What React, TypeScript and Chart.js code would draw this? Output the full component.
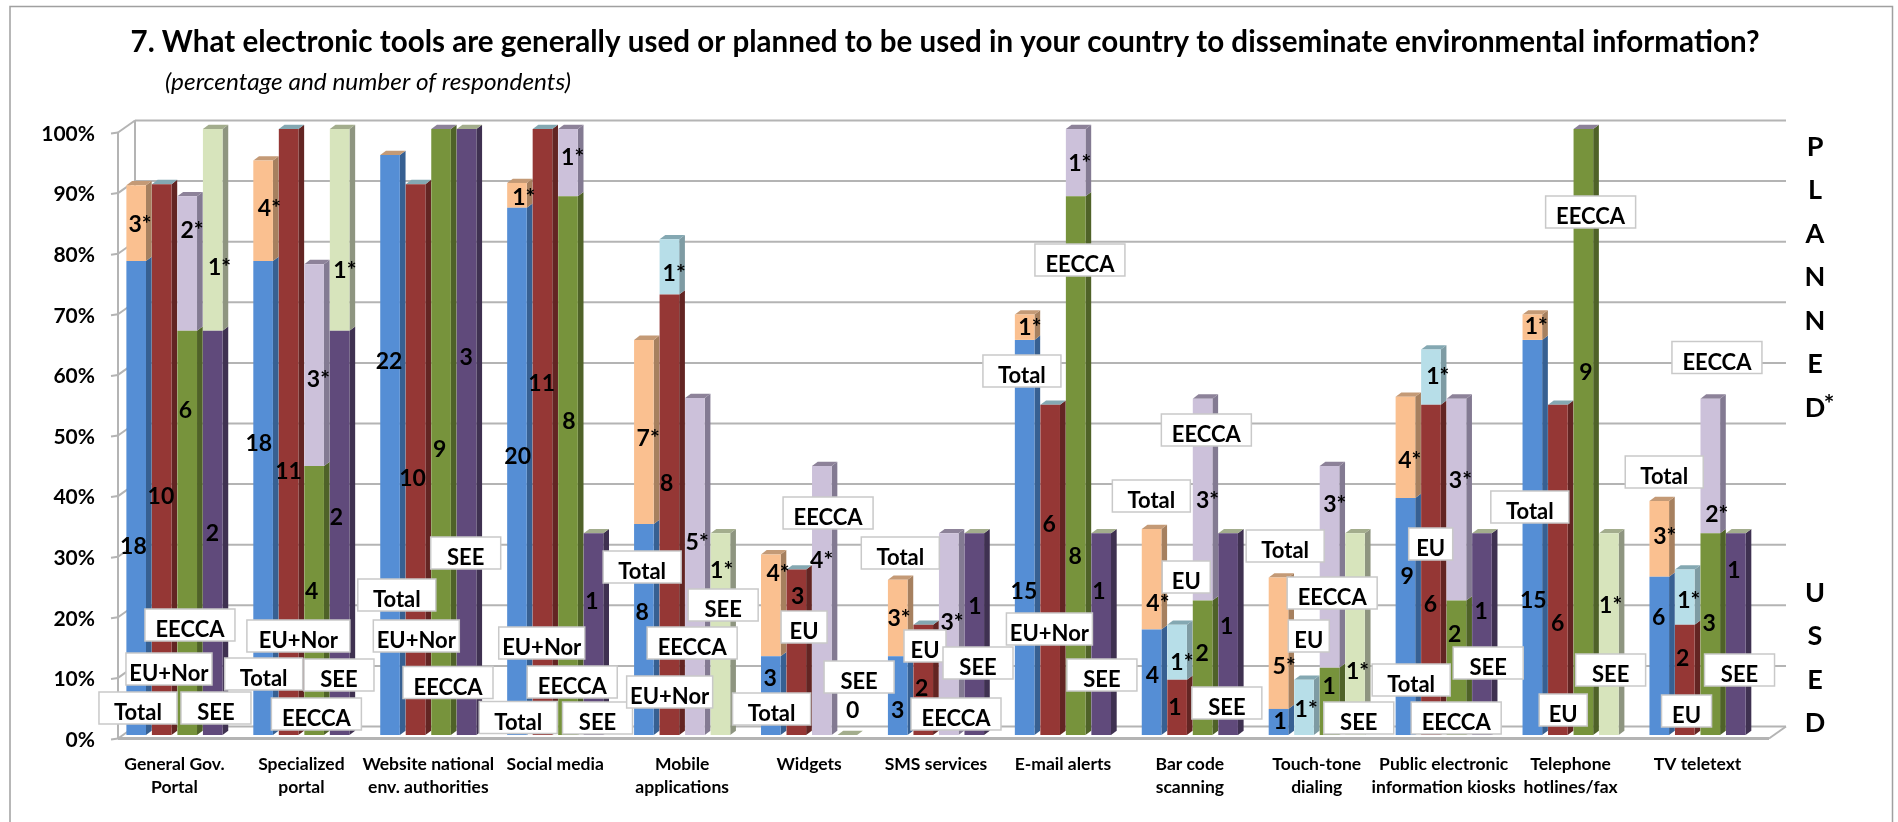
import { useEffect, useRef } from "react";
import { Chart, registerables } from "chart.js";

Chart.register(...registerables);

const categories = [
  ["General Gov.", "Portal"],
  ["Specialized", "portal"],
  ["Website national", "env. authorities"],
  ["Social media"],
  ["Mobile", "applications"],
  ["Widgets"],
  ["SMS services"],
  ["E-mail alerts"],
  ["Bar code", "scanning"],
  ["Touch-tone", "dialing"],
  ["Public electronic", "information kiosks"],
  ["Telephone", "hotlines/fax"],
  ["TV teletext"],
];

// Percentage of respondents, "used" and "planned" stacked per region.
const totalUsed = [78.2, 78.2, 95.7, 87, 34.8, 13, 13, 65.2, 17.4, 4.3, 39.1, 65.2, 26.1];
const totalPlanned = [12.5, 16.6, 0, 4.1, 30.4, 16.8, 12.6, 4.2, 16.6, 21.7, 16.7, 4.2, 12.5];
const euUsed = [90.9, 100, 90.9, 100, 72.7, 27.3, 18.2, 54.5, 9.1, 0, 54.5, 54.5, 18.2];
const euPlanned = [0, 0, 0, 0, 9.1, 0, 0, 0, 9.1, 9.1, 9.1, 0, 9.1];
const eeccaUsed = [66.7, 44.4, 100, 88.9, 0, 0, 0, 88.9, 22.2, 11.1, 22.2, 100, 33.3];
const eeccaPlanned = [22.2, 33.3, 0, 11.1, 55.6, 44.4, 33.3, 11.1, 33.3, 33.3, 33.3, 0, 22.2];
const seeUsed = [66.7, 66.7, 100, 33.3, 0, 0, 33.3, 33.3, 33.3, 0, 33.3, 0, 33.3];
const seePlanned = [33.3, 33.3, 0, 0, 33.3, 0, 0, 0, 0, 33.3, 0, 33.3, 0];

const yTicks = [0, 10, 20, 30, 40, 50, 60, 70, 80, 90, 100];
const titleText = "7. What electronic tools are generally used or planned to be used in your country to disseminate environmental information?";
const subtitleText = "(percentage and number of respondents)";
const plannedLetters = ["P", "L", "A", "N", "N", "E", "D"];
const usedLetters = ["U", "S", "E", "D"];

// Respondent counts: category index, text, x offset from the category centre, height above the floor.
type Note = [number, string, number, number];
const countNotes: Note[] = [
  [0, "3*", -34.5, 510], [0, "2*", 17.5, 504], [0, "1*", 45, 467], [0, "6", 11, 324], [0, "10", -13.5, 238], [0, "18", -41, 188], [0, "2", 38, 201],
  [1, "4*", -32, 526], [1, "1*", 43.5, 464], [1, "3*", 17, 355], [1, "18", -42.6, 291], [1, "11", -12.8, 263], [1, "4", 10.4, 143], [1, "2", 35, 217],
  [2, "22", -39.3, 373], [2, "3", 37.8, 377], [2, "9", 11.3, 285], [2, "10", -15.7, 256],
  [3, "1*", -31.5, 537], [3, "1*", 17.4, 577], [3, "11", -13.6, 351], [3, "8", 13.8, 313], [3, "20", -37.6, 278], [3, "1", 36.6, 133],
  [4, "7*", -34, 296], [4, "1*", -8, 461], [4, "8", -15.6, 251], [4, "8", -40, 122], [4, "5*", 15, 192], [4, "1*", 39.5, 164],
  [5, "4*", -31, 161], [5, "4*", 12.6, 174], [5, "3", -11.4, 138], [5, "3", -39, 56], [5, "0", 43.7, 24],
  [6, "3*", -37, 116], [6, "3*", 16, 112], [6, "1", 38.8, 128], [6, "3", -38.3, 24], [6, "2", -14.3, 46],
  [7, "1*", -33, 407], [7, "1*", 16.8, 571], [7, "15", -39, 143], [7, "6", -13.8, 210], [7, "8", 12.3, 178], [7, "1", 36, 143],
  [8, "4*", -32, 131], [8, "3*", 17.6, 234], [8, "4", -37.5, 59], [8, "1*", -8, 72], [8, "2", 12.3, 81], [8, "1", 36.8, 108], [8, "1", -15, 27],
  [9, "3*", 18, 230], [9, "5*", -32.6, 68], [9, "1*", -10.6, 25], [9, "1", -36.6, 13], [9, "1", 12.3, 48], [9, "1*", 40.7, 63],
  [10, "4*", -34, 274], [10, "1*", -6, 358], [10, "3*", 16.7, 254], [10, "9", -36.5, 158], [10, "6", -13.3, 130], [10, "1", 37.5, 123], [10, "2", 11, 100],
  [11, "1*", -34.4, 408], [11, "9", 15.2, 362], [11, "15", -37.3, 134], [11, "6", -13, 111], [11, "1*", 40, 129],
  [12, "3*", -32.8, 198], [12, "2*", 19.2, 220], [12, "1", 36.5, 164], [12, "1*", -8.8, 134], [12, "6", -38.8, 117], [12, "3", 11.7, 111], [12, "2", -14.8, 76],
];

// Boxed region tags, same columns, with an optional width override.
type Tag = [number, string, number, number, number?];
const regionTags: Tag[] = [
  [0, "EECCA", 15.5, 110], [0, "EU+Nor", -5.5, 66], [0, "Total", -36.5, 27], [0, "SEE", 41.5, 27],
  [1, "EU+Nor", -3, 99, 103], [1, "Total", -37.7, 61], [1, "SEE", 37.6, 60], [1, "EECCA", 15, 21],
  [2, "SEE", 37.4, 182], [2, "Total", -31.5, 140], [2, "EU+Nor", -12, 99], [2, "EECCA", 19.7, 52.5],
  [3, "EU+Nor", -13.5, 92], [3, "EECCA", 17, 53], [3, "Total", -37, 17.5], [3, "SEE", 42.3, 17],
  [4, "Total", -40, 168], [4, "SEE", 41, 130], [4, "EECCA", 10, 92], [4, "EU+Nor", -12.5, 43],
  [5, "EECCA", 19, 222], [5, "EU", -5, 108, 46], [5, "SEE", 50, 58], [5, "Total", -37.5, 26],
  [6, "Total", -35.7, 182], [6, "EU", -11, 89, 42], [6, "SEE", 42, 72], [6, "EECCA", 20, 21],
  [7, "Total", -41, 364], [7, "EECCA", 17, 475], [7, "EU+Nor", -13.5, 106], [7, "SEE", 39, 60],
  [8, "EECCA", 16.5, 305], [8, "Total", -38.5, 239], [8, "EU", -3.6, 158, 48], [8, "SEE", 37, 32],
  [9, "Total", -31.6, 189], [9, "EECCA", 15.4, 142], [9, "EU", -8, 99, 41], [9, "SEE", 42, 17],
  [10, "EU", -13, 191, 44], [10, "Total", -32.5, 55], [10, "SEE", 44.5, 72], [10, "EECCA", 12.5, 17],
  [11, "EECCA", 20, 523], [11, "Total", -40.8, 228], [11, "SEE", 40, 65], [11, "EU", -7.4, 25, 48],
  [12, "EECCA", 19.4, 377.5], [12, "Total", -33.3, 263], [12, "SEE", 42, 65], [12, "EU", -11, 24, 50],
];

const tagWidths: Record<string, number> = { EECCA: 90, "EU+Nor": 86, Total: 78, SEE: 70, EU: 46 };

const FONT = "Lato, Carlito, Calibri, sans-serif";

// Each region is a used segment with a planned segment on top; side and top faces give the 3-D look.
const seriesStyles = [
  { label: "Total used", stack: "Total", data: totalUsed, front: "#558ed5", side: "#376092", top: "#c49a76" },
  { label: "Total planned", stack: "Total", data: totalPlanned, front: "#fac090", side: "#a6805f", top: "#c49a76" },
  { label: "EU+Nor used", stack: "EU", data: euUsed, front: "#953735", side: "#632523", top: "#84a8b2" },
  { label: "EU+Nor planned", stack: "EU", data: euPlanned, front: "#b7dee8", side: "#7e9ba3", top: "#84a8b2" },
  { label: "EECCA used", stack: "EECCA", data: eeccaUsed, front: "#77933c", side: "#4f6228", top: "#8d8299" },
  { label: "EECCA planned", stack: "EECCA", data: eeccaPlanned, front: "#ccc1da", side: "#837a92", top: "#8d8299" },
  { label: "SEE used", stack: "SEE", data: seeUsed, front: "#604a7b", side: "#3f3151", top: "#a3ad8d" },
  { label: "SEE planned", stack: "SEE", data: seePlanned, front: "#d7e4bc", side: "#8e9580", top: "#a3ad8d" },
];

const BAR_DEPTH_X = 5.7;
const BAR_DEPTH_Y = 4.3;
const WALL_LEFT_INSET = 7;
const WALL_RIGHT_INSET = 8;
const WALL_DEPTH_X = 17;
const WALL_DEPTH_Y = 8.5;
const AXIS_DROP = 3.5;
const GRID = "#b4b4b4";

function line(ctx: CanvasRenderingContext2D, x1: number, y1: number, x2: number, y2: number) {
  ctx.beginPath();
  ctx.moveTo(x1, y1);
  ctx.lineTo(x2, y2);
  ctx.stroke();
}

function face(ctx: CanvasRenderingContext2D, color: string, pts: number[][]) {
  ctx.fillStyle = color;
  ctx.beginPath();
  pts.forEach(([x, y], i) => (i ? ctx.lineTo(x, y) : ctx.moveTo(x, y)));
  ctx.closePath();
  ctx.fill();
}

const pagePlugin = {
  id: "pageText",
  beforeDraw(chart: any) {
    const ctx = chart.ctx as CanvasRenderingContext2D;
    ctx.save();
    ctx.fillStyle = "#ffffff";
    ctx.fillRect(0, 0, chart.width, chart.height);
    ctx.strokeStyle = "#a0a0a0";
    ctx.lineWidth = 1.5;
    ctx.beginPath();
    ctx.moveTo(10, chart.height);
    ctx.lineTo(10, 6.5);
    ctx.lineTo(1892.5, 6.5);
    ctx.lineTo(1892.5, chart.height);
    ctx.stroke();

    ctx.fillStyle = "#000000";
    ctx.textBaseline = "middle";
    ctx.textAlign = "left";

    // The heading spans the plot width, so the font is fitted to that width.
    ctx.font = `bold 30px ${FONT}`;
    const natural = ctx.measureText(titleText).width;
    ctx.save();
    ctx.translate(130.5, 42);
    ctx.scale(1629 / natural, 1);
    ctx.fillText(titleText, 0, 0);
    ctx.restore();

    ctx.font = `italic 23px ${FONT}`;
    const subNatural = ctx.measureText(subtitleText).width;
    ctx.save();
    ctx.translate(165, 83);
    ctx.scale(406 / subNatural, 1);
    ctx.fillText(subtitleText, 0, 0);
    ctx.restore();

    // Vertical side captions.
    ctx.textAlign = "center";
    ctx.font = `bold 27px ${FONT}`;
    plannedLetters.forEach((ch, i) => ctx.fillText(ch, 1815, 147 + i * 43.5));
    usedLetters.forEach((ch, i) => ctx.fillText(ch, 1815, 593 + i * 43.4));
    ctx.font = `bold 25px ${FONT}`;
    ctx.fillText("*", 1829, 405);
    ctx.restore();
  },
};

const depthPlugin = {
  id: "depthFaces",
  beforeDatasetsDraw(chart: any) {
    const ctx = chart.ctx as CanvasRenderingContext2D;
    const y = chart.scales.y;
    const area = chart.chartArea;
    const left = area.left + WALL_LEFT_INSET;
    const right = area.right + WALL_RIGHT_INSET;
    const floorFront = y.getPixelForValue(0) + AXIS_DROP;
    const floorBack = y.getPixelForValue(0) - WALL_DEPTH_Y;

    ctx.save();
    ctx.strokeStyle = GRID;
    ctx.lineWidth = 2;
    yTicks.forEach((v) => {
      const py = y.getPixelForValue(v);
      // Back wall line, side wall diagonal and the short tick at the front axis.
      line(ctx, left + WALL_DEPTH_X, py - WALL_DEPTH_Y, right + WALL_DEPTH_X, py - WALL_DEPTH_Y);
      line(ctx, left - 7, py + AXIS_DROP + 1, left, py + AXIS_DROP);
      line(ctx, left, py + AXIS_DROP, left + WALL_DEPTH_X, py - WALL_DEPTH_Y);
    });
    line(ctx, left, y.getPixelForValue(100) + AXIS_DROP, left, floorFront);
    line(ctx, left + WALL_DEPTH_X, y.getPixelForValue(100) - WALL_DEPTH_Y, left + WALL_DEPTH_X, floorBack);
    line(ctx, right, floorFront, right + WALL_DEPTH_X, floorBack);
    ctx.lineWidth = 3;
    line(ctx, left, floorFront, right, floorFront);

    // Side faces for every segment, top face on the stack's upper segment only.
    seriesStyles.forEach((s, ds) => {
      const isPlanned = ds % 2 === 1;
      chart.getDatasetMeta(ds).data.forEach((bar: any) => {
        const xr = bar.x + bar.width / 2;
        const xl = bar.x - bar.width / 2;
        if (bar.base - bar.y > 0.01) {
          face(ctx, s.side, [
            [xr, bar.y],
            [xr + BAR_DEPTH_X, bar.y - BAR_DEPTH_Y],
            [xr + BAR_DEPTH_X, bar.base - BAR_DEPTH_Y],
            [xr, bar.base],
          ]);
        }
        if (isPlanned) {
          face(ctx, s.top, [
            [xl, bar.y],
            [xl + BAR_DEPTH_X, bar.y - BAR_DEPTH_Y],
            [xr + BAR_DEPTH_X, bar.y - BAR_DEPTH_Y],
            [xr, bar.y],
          ]);
        }
      });
    });
    ctx.restore();
  },
  afterDatasetsDraw(chart: any) {
    const ctx = chart.ctx as CanvasRenderingContext2D;
    const x = chart.scales.x;
    const floor = chart.scales.y.getPixelForValue(0);
    ctx.save();
    ctx.fillStyle = "#000000";
    ctx.textAlign = "center";
    ctx.textBaseline = "middle";
    ctx.font = `bold 23px ${FONT}`;
    countNotes.forEach(([cat, text, dx, rise]) => {
      ctx.fillText(text, x.getPixelForValue(cat) + dx, floor - rise);
    });
    ctx.font = `bold 22px ${FONT}`;
    regionTags.forEach(([cat, text, dx, rise, width]) => {
      const w = width ?? tagWidths[text];
      const h = 32;
      const cx = x.getPixelForValue(cat) + dx;
      const cy = floor - rise;
      ctx.fillStyle = "#ffffff";
      ctx.fillRect(cx - w / 2, cy - h / 2, w, h);
      ctx.strokeStyle = "#c9c9c9";
      ctx.lineWidth = 1.5;
      ctx.strokeRect(cx - w / 2, cy - h / 2, w, h);
      ctx.fillStyle = "#000000";
      ctx.fillText(text, cx, cy + 5);
    });
    ctx.restore();
  },
};

export default function App() {
  const canvasRef = useRef<HTMLCanvasElement | null>(null);

  useEffect(() => {
    const chart = new Chart(canvasRef.current as HTMLCanvasElement, {
      type: "bar",
      data: {
        labels: categories as any,
        datasets: seriesStyles.map((s) => ({
          label: s.label,
          stack: s.stack,
          data: s.data,
          backgroundColor: s.front,
          borderWidth: 0,
          barPercentage: 0.769,
          categoryPercentage: 0.804,
        })),
      },
      options: {
        animation: false,
        responsive: false,
        devicePixelRatio: 1,
        layout: { autoPadding: false, padding: { top: 129, right: 137, left: 0, bottom: 0 } },
        plugins: { legend: { display: false }, title: { display: false }, tooltip: { enabled: false } },
        scales: {
          x: {
            stacked: true,
            grid: { display: false, drawTicks: false },
            border: { display: false },
            afterFit: (scale: any) => {
              scale.height = 87;
            },
            ticks: {
              autoSkip: false,
              maxRotation: 0,
              minRotation: 0,
              padding: 18,
              color: "#000000",
              font: { family: FONT, weight: "bold", size: 17.5, lineHeight: 1.31 },
            },
          },
          y: {
            stacked: true,
            min: 0,
            max: 100,
            grid: { display: false, drawTicks: false },
            border: { display: false },
            afterFit: (scale: any) => {
              scale.width = 111;
            },
            afterBuildTicks: (scale: any) => {
              scale.ticks = yTicks.map((value) => ({ value }));
            },
            ticks: {
              padding: 16,
              labelOffset: 5,
              color: "#000000",
              font: { family: FONT, weight: "bold", size: 21 },
              callback: (v: any) => `${v}%`,
            },
          },
        },
      },
      plugins: [pagePlugin, depthPlugin],
    } as any);
    return () => chart.destroy();
  }, []);

  return (
    <div style={{ position: "absolute", left: 0, top: 0, width: 1898, height: 822 }}>
      <canvas ref={canvasRef} width={1898} height={822} style={{ display: "block" }} />
    </div>
  );
}
